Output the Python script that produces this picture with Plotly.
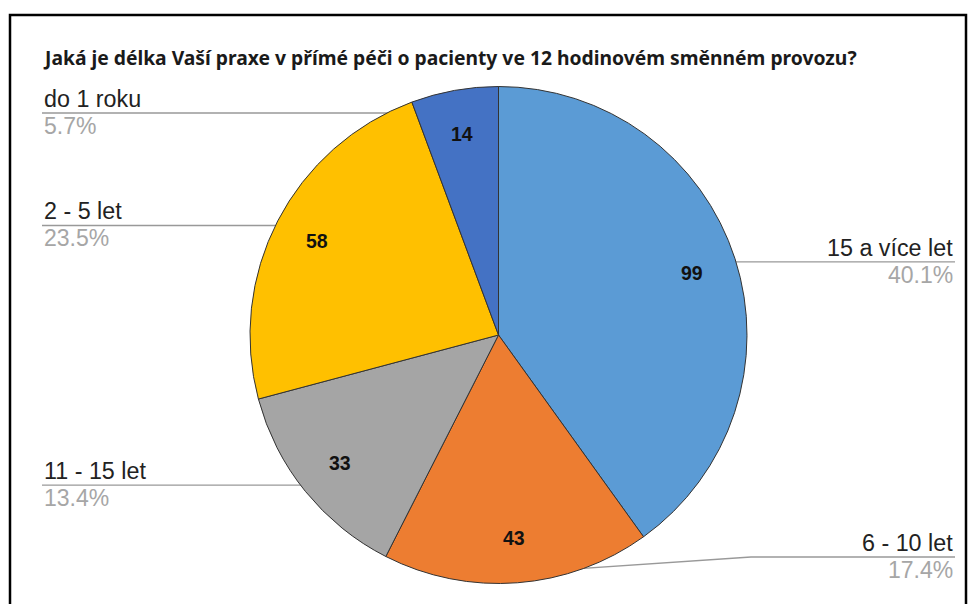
import math
import plotly.graph_objects as go

# ---- data ----
categories = ["15 a více let", "6 - 10 let", "11 - 15 let", "2 - 5 let", "do 1 roku"]
values = [99, 43, 33, 58, 14]
colors = ["#5B9BD5", "#ED7D31", "#A5A5A5", "#FFC000", "#4472C4"]
title_text = "Jaká je délka Vaší praxe v přímé péči o pacienty ve 12 hodinovém směnném provozu?"

# ---- layout constants (pixels) ----
W, H = 972, 604
CX, CY, R = 498.5, 335, 248.5
LEFT_X, RIGHT_X = 42, 955
LINE_MIN_Y, LINE_MAX_Y = 113, 557
DOT_F, VAL_F = 0.96, 0.82

total = sum(values)
fig = go.Figure()

fig.add_trace(go.Pie(
    labels=categories, values=values, sort=False, direction="clockwise", rotation=0,
    marker=dict(colors=colors, line=dict(color="#333333", width=1)),
    textinfo="none", hoverinfo="label+value+percent", showlegend=False,
    domain=dict(x=[(CX - R) / W, (CX + R) / W], y=[1 - (CY + R) / H, 1 - (CY - R) / H]),
))

annotations = []
cum = 0
for cat, v in zip(categories, values):
    mid = (cum + v / 2) / total * 2 * math.pi
    cum += v
    s, c = math.sin(mid), math.cos(mid)
    dx, dy = CX + DOT_F * R * s, CY - DOT_F * R * c
    vx, vy = CX + VAL_F * R * s, CY - VAL_F * R * c
    ly = min(max(dy, LINE_MIN_Y), LINE_MAX_Y)
    right = s > 0
    if right:
        endx = RIGHT_X
        bendx = CX + R + 4
    else:
        endx = LEFT_X
        bendx = CX - math.sqrt(max(R * R - (ly - CY) ** 2, 0)) + 18
    if abs(ly - dy) > 1:
        xs, ys = [dx, bendx, endx], [dy, ly, ly]
    else:
        xs, ys = [dx, endx], [dy, dy]
    fig.add_trace(go.Scatter(x=xs, y=ys, mode="lines", line=dict(color="#999999", width=1.3),
                             hoverinfo="skip", showlegend=False))
    fig.add_trace(go.Scatter(x=[dx], y=[dy], mode="markers", marker=dict(color="#999999", size=5),
                             hoverinfo="skip", showlegend=False))
    anchor = "right" if right else "left"
    annotations.append(dict(x=endx, y=ly - 14, xref="x", yref="y", text=cat, showarrow=False,
                            xanchor=anchor, yanchor="middle",
                            font=dict(family="Liberation Sans, Arial", size=23.3, color="#222222")))
    annotations.append(dict(x=endx, y=ly + 13, xref="x", yref="y",
                            text=f"{v / total * 100:.1f}%", showarrow=False,
                            xanchor=anchor, yanchor="middle",
                            font=dict(family="Liberation Sans, Arial", size=23, color="#A6A6A6")))
    annotations.append(dict(x=vx, y=vy, xref="x", yref="y", text=f"<b>{v}</b>", showarrow=False,
                            xanchor="center", yanchor="middle",
                            font=dict(family="Liberation Sans, Arial", size=19.5, color="#111111")))

annotations.append(dict(x=LEFT_X - 1, y=57, xref="x", yref="y", text=f"<b>{title_text}</b>",
                        showarrow=False, xanchor="left", yanchor="middle",
                        font=dict(family="Noto Sans", size=19.3, color="#1a1a1a")))

fig.update_layout(
    width=W, height=H, margin=dict(l=0, r=0, t=0, b=0),
    paper_bgcolor="white", plot_bgcolor="rgba(0,0,0,0)",
    xaxis=dict(range=[0, W], visible=False, fixedrange=True),
    yaxis=dict(range=[H, 0], visible=False, fixedrange=True),
    annotations=annotations,
    shapes=[dict(type="rect", xref="x", yref="y", x0=10, y0=15, x1=966, y1=H + 20,
                 line=dict(color="black", width=2.5), layer="above")],
)

fig.write_html("out.html", config={"displayModeBar": False},
               post_script="document.body.style.margin='0';document.body.style.padding='0';")
